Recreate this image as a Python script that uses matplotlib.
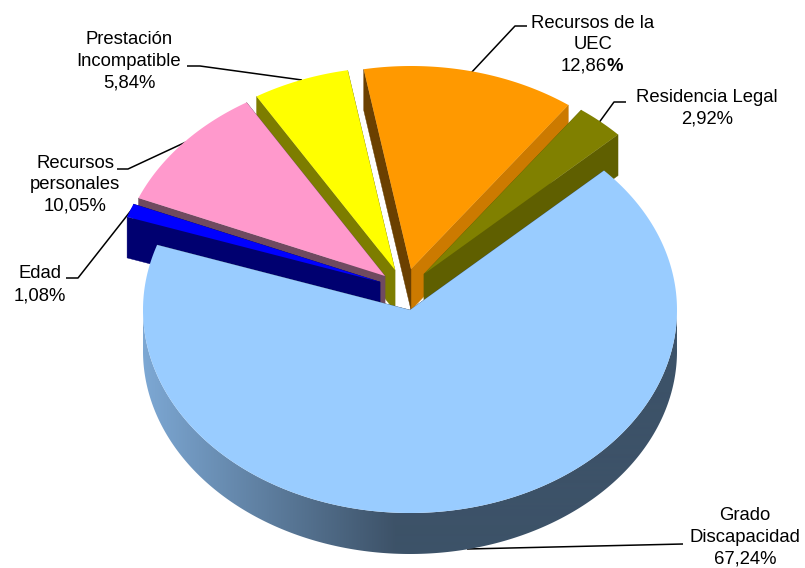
import numpy as np
import matplotlib
matplotlib.use("Agg")
import matplotlib.pyplot as plt
from matplotlib.patches import Polygon

categories = ["Grado\nDiscapacidad", "Residencia Legal", "Recursos de la\nUEC",
              "Prestación\nIncompatible", "Recursos\npersonales", "Edad"]
values = [67.24, 2.92, 12.86, 5.84, 10.05, 1.08]
top_colors = ["#99ccff", "#808000", "#ff9900", "#ffff00", "#ff99cc", "#0000ff"]
start_face_colors = ["#3d5268", "#5f5f00", "#cc7a00", "#7d7d00", "#6f4a60", "#000070"]
end_face_colors = ["#3d5268", "#5f5f00", "#6b4000", "#7d7d00", "#6f4a60", "#000070"]

# layout (pixels)
apex = [(410, 310), (424, 274), (411, 269), (395, 270), (385, 276), (380, 282)]
RX, RY, DEPTH = 267, 203, 41
START = 161.3   # Grado starts here and runs counter-clockwise through the bottom
DRAW_ORDER = [2, 1, 3, 4, 5, 0]

plt.rcParams["font.family"] = ["Liberation Sans", "DejaVu Sans"]
fig = plt.figure(figsize=(8.05, 5.68), dpi=100)
ax = fig.add_axes([0, 0, 1, 1])
ax.axis("off")

spans = np.array(values) / sum(values) * 360
bounds = []
a = START
for s in spans:
    bounds.append((a, a + s))
    a += s


def ell(c, t):
    t = np.radians(t)
    return np.column_stack([c[0] + RX * np.cos(t), c[1] - RY * np.sin(t)])


# horizontal shading of the outer wall
xg = np.arange(0, 806)
light = np.array([0x7d, 0xa8, 0xd4]) / 255
dark = np.array([0x3d, 0x52, 0x68]) / 255
fr = np.clip((xg - 143) / (395 - 143), 0, 1)[None, :, None]
shade = light[None, None, :] + (dark - light)[None, None, :] * fr

leaders = [
    [(683, 544), (467, 549)],
    [(626, 102), (614, 102), (598, 124)],
    [(527, 26), (515, 26), (471, 73)],
    [(187, 66), (200, 66), (302, 80)],
    [(117, 169), (128, 169), (186, 142)],
    [(66, 278), (78, 278), (133, 208)],
]
for pts in leaders:
    xs, ys = zip(*pts)
    ax.plot(xs, ys, color="black", lw=1.1, zorder=1, solid_capstyle="butt")

z = 2
for i in DRAW_ORDER:
    c = apex[i]
    t0, t1 = bounds[i]
    ts = np.linspace(t0, t1, max(int((t1 - t0) * 2), 8))
    arc = ell(c, ts)
    down = np.array([0, DEPTH])
    for p, col in ((arc[0], start_face_colors[i]), (arc[-1], end_face_colors[i])):
        q = np.array([c, p, p + down, np.array(c) + down])
        ax.add_patch(Polygon(q, closed=True, fc=col, ec=col, lw=0.3, zorder=z))
    z += 1
    vis = arc[np.sin(np.radians(ts)) <= 0.02]
    if len(vis) >= 2:
        wall = Polygon(np.vstack([vis, (vis + down)[::-1]]), closed=True, fc="none",
                       ec="none", transform=ax.transData)
        ax.add_patch(wall)
        im = ax.imshow(shade, extent=(0, 805, 568, 0), aspect="auto", zorder=z,
                       interpolation="bilinear")
        im.set_clip_path(wall)
    z += 1
    ax.add_patch(Polygon(np.vstack([[c], arc]), closed=True, fc=top_colors[i],
                         ec="none", zorder=z))
    z += 1

ax.set_xlim(0, 805)
ax.set_ylim(568, 0)

FS = 13.3
label_pos = [(745, 516), (707, 97), (593, 23), (129, 40), (75, 163), (40, 274)]
LINE = 21.7
for i, (name, (x, y)) in enumerate(zip(categories, label_pos)):
    lines = name.split("\n")
    pct = f"{values[i]:.2f}".replace(".", ",")
    for j, ln in enumerate(lines):
        ax.text(x, y + j * LINE, ln, ha="center", va="center", fontsize=FS, zorder=50)
    yy = y + len(lines) * LINE
    if i == 2:
        ax.text(607, yy, pct, ha="right", va="center", fontsize=FS, zorder=50)
        ax.text(606, yy, "%", ha="left", va="center", fontsize=FS, weight="bold", zorder=50)
    else:
        ax.text(x, yy, pct + "%", ha="center", va="center", fontsize=FS, zorder=50)

fig.savefig("out.png", dpi=100, facecolor="white")
